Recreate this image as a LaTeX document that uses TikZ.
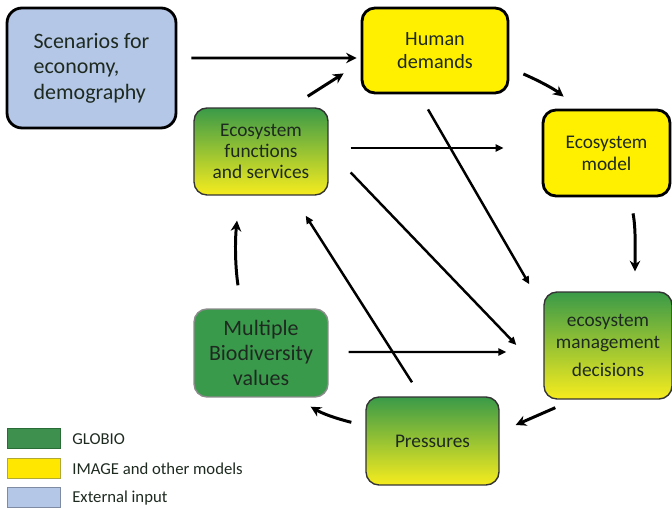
\documentclass[tikz,border=0pt]{standalone}
\usepackage{fontspec}
\setmainfont{Carlito}
\usetikzlibrary{arrows.meta}

\definecolor{extblue}{HTML}{B4C7E7}
\definecolor{imgyellow}{HTML}{FFF000}
\definecolor{globgreen}{HTML}{3A9A4C}
\definecolor{mixtop}{HTML}{3A9A48}
\definecolor{mixbottom}{HTML}{F6EC1E}
\definecolor{boxtext}{HTML}{1E2A20}

\tikzset{box/.style = {shape = rectangle,
                       rounded corners = 0.26cm,
                       inner sep = 0pt,
                       align = center,
                       text = boxtext,
                       draw},
         extbox/.style = {box, fill = extblue, line width = 1.6pt,
                          rounded corners = 0.3cm, align = left},
         imgbox/.style = {box, fill = imgyellow, line width = 1.6pt},
         mixbox/.style = {box, top color = mixtop, bottom color = mixbottom,
                          draw = black!80, line width = 0.8pt},
         globbox/.style = {box, fill = globgreen, draw = black!45,
                           line width = 0.8pt},
         legbox/.style = {shape = rectangle, inner sep = 0pt,
                          minimum width = 1.06cm, minimum height = 0.4cm,
                          line width = 0.5pt, draw},
         legtext/.style = {anchor = west, inner sep = 0pt, text = boxtext,
                           font = \fontsize{9.5}{11}\selectfont},
         bigarr/.style = {-{Stealth[length = 6pt, width = 6pt]},
                          line width = 1.7pt},
         thinarr/.style = {-{Triangle[length = 4.5pt, width = 4pt]},
                           line width = 1.4pt}}

\begin{document}
\begin{tikzpicture}[x = 0.02cm, y = -0.02cm]
    \useasboundingbox (0,0) rectangle (672,509);

    % boxes
    \node[extbox, minimum width = 3.38cm, minimum height = 2.4cm,
          font = \fontsize{12.5}{14.5}\selectfont] (scen) at (91.5,68)
          {Scenarios for\\economy,\\demography};
    \node[imgbox, minimum width = 2.92cm, minimum height = 1.7cm,
          font = \fontsize{11.5}{13}\selectfont] (human) at (435,50.5)
          {Human\\demands};
    \node[imgbox, minimum width = 2.54cm, minimum height = 1.72cm,
          font = \fontsize{11}{12.5}\selectfont] (ecomodel) at (606.5,153)
          {Ecosystem\\model};
    \node[mixbox, minimum width = 2.68cm, minimum height = 1.74cm,
          font = \fontsize{11}{12}\selectfont] (ecofun) at (261,151.5)
          {Ecosystem\\functions\\and services};
    \node[mixbox, minimum width = 2.56cm, minimum height = 2.14cm,
          font = \fontsize{11}{12.5}\selectfont] (mgmt) at (608,345.5)
          {ecosystem\\management\\[3pt]decisions};
    \node[globbox, minimum width = 2.68cm, minimum height = 1.76cm,
          font = \fontsize{12.5}{14}\selectfont] (multi) at (261,353)
          {Multiple\\Biodiversity\\values};
    \node[mixbox, minimum width = 2.66cm, minimum height = 1.76cm,
          font = \fontsize{11}{12.5}\selectfont] (press) at (432.5,441)
          {Pressures};

    % cycle arrows
    \draw[bigarr] ([shift = {(14,-10)}]scen.east) -- ([shift = {(-4,7.5)}]human.west);
    \draw[bigarr] ([shift = {(-21,-11)}]ecofun.north east) -- ([shift = {(-17,-21)}]human.south west);
    \draw[bigarr] ([shift = {(14,23.5)}]human.east)
        .. controls +(14,6) and +(-10,-8) .. ([shift = {(22,-12)}]ecomodel.north west);
    \draw[bigarr] ([shift = {(26.5,16)}]ecomodel.south)
        .. controls +(3,15) and +(0,-20) .. ([shift = {(27,-20)}]mgmt.north);
    \draw[bigarr] ([shift = {(12,8)}]mgmt.south west) -- ([shift = {(16,-16)}]press.east);
    \draw[bigarr] ([shift = {(-14,26)}]press.north west)
        .. controls +(-16,-4) and +(12,7) .. ([shift = {(-18,9)}]multi.south east);
    \draw[bigarr] ([shift = {(-23,-23)}]multi.north)
        .. controls +(-3,-20) and +(-2,20) .. ([shift = {(-24,25)}]ecofun.south);

    % cross arrows
    \draw[thinarr] ([shift = {(22,-3.5)}]ecofun.east) -- ([shift = {(-38,-5)}]ecomodel.west);
    \draw[thinarr] ([shift = {(22,21)}]ecofun.east) -- ([shift = {(-27,-0.5)}]mgmt.west);
    \draw[thinarr] ([shift = {(-7,15)}]human.south) -- ([shift = {(-14,-7)}]mgmt.north west);
    \draw[thinarr] ([shift = {(20,-1)}]multi.east) -- ([shift = {(-37,6.5)}]mgmt.west);
    \draw[thinarr] ([shift = {(-20.5,-14)}]press.north) -- ([shift = {(-23,20)}]ecofun.south east);

    % legend
    \node[legbox, fill = globgreen!90!black!95, draw = globgreen!70!black] (lgglob) at (33.5,438) {};
    \node[legbox, fill = imgyellow!92!orange, draw = olive!70] (lgimg) at (33.5,468) {};
    \node[legbox, fill = extblue, draw = extblue!70!black] (lgext) at (33.5,497) {};
    \node[legtext] (lgglobtxt) at (72,439) {GLOBIO};
    \node[legtext] (lgimgtxt) at (72,469) {IMAGE and other models};
    \node[legtext] (lgexttxt) at (72,498) {External input};
\end{tikzpicture}
\end{document}
